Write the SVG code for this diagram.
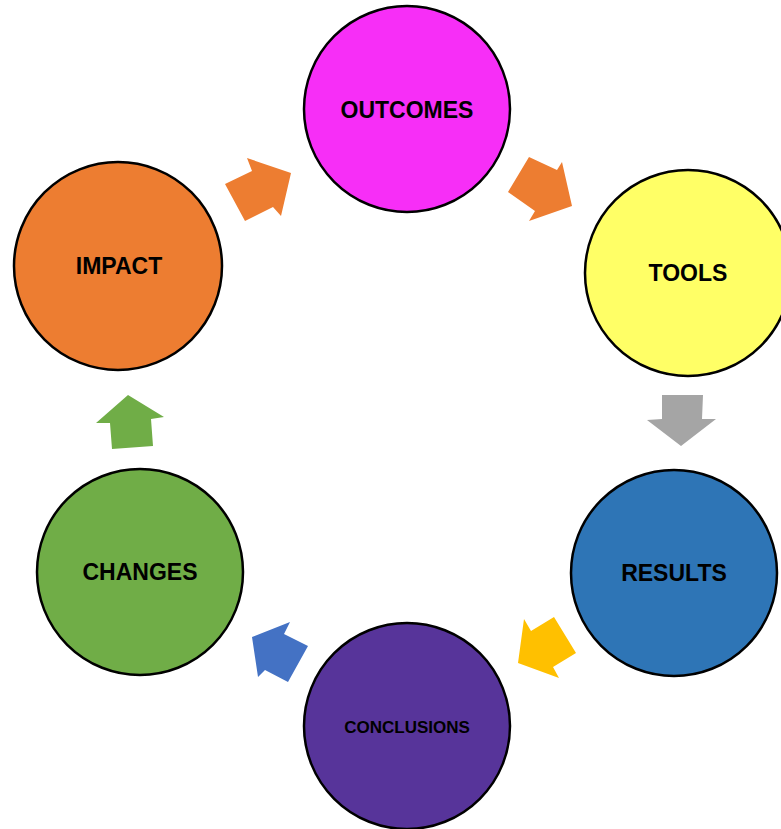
<svg xmlns="http://www.w3.org/2000/svg" width="781" height="829" viewBox="0 0 781 829">
<style>
.n{stroke:#000;stroke-width:2.5}
.t{font-family:"Liberation Sans",Arial,sans-serif;font-weight:bold;font-size:23px;text-anchor:middle;fill:#000}
.s{font-size:17px}
</style>
<rect width="781" height="829" fill="#fff"/>
<g id="connectors">
<polygon fill="#ed7d31" points="225,184 252,171 247,158 291,173 281,216 273,207 245,221"/>
<polygon fill="#ed7d31" points="508,192 529,157 557,170 562,162 572,206 529,221 535,211"/>
<polygon fill="#a5a5a5" points="662,395 703,395 702,419 716,419 681,446 647,420 662,419"/>
<polygon fill="#ffc000" points="554,617 576,653 553,667 559,678 518,663 524,619 531,631"/>
<polygon fill="#4472c4" points="252,637 290,622 284,634 308,646 288,682 265,670 258,677"/>
<polygon fill="#70ad47" points="128,395 164,417 151,419 153,446 112,449 110,423 96,423"/>
</g>
<g id="outcomes"><circle class="n" cx="407" cy="109" r="103" fill="#f72ef7"/><text class="t" x="407" y="118">OUTCOMES</text></g>
<g id="tools"><circle class="n" cx="688" cy="273" r="103" fill="#ffff66"/><text class="t" x="688" y="281">TOOLS</text></g>
<g id="results"><circle class="n" cx="674" cy="573" r="103" fill="#2e75b6"/><text class="t" x="674" y="581">RESULTS</text></g>
<g id="conclusions"><circle class="n" cx="407" cy="726" r="103" fill="#57349a"/><text class="t s" x="407" y="733">CONCLUSIONS</text></g>
<g id="changes"><circle class="n" cx="140" cy="572" r="103" fill="#70ad47"/><text class="t" x="140" y="580">CHANGES</text></g>
<g id="impact"><circle class="n" cx="118" cy="266" r="104" fill="#ed7d31"/><text class="t" x="119" y="274">IMPACT</text></g>
</svg>
